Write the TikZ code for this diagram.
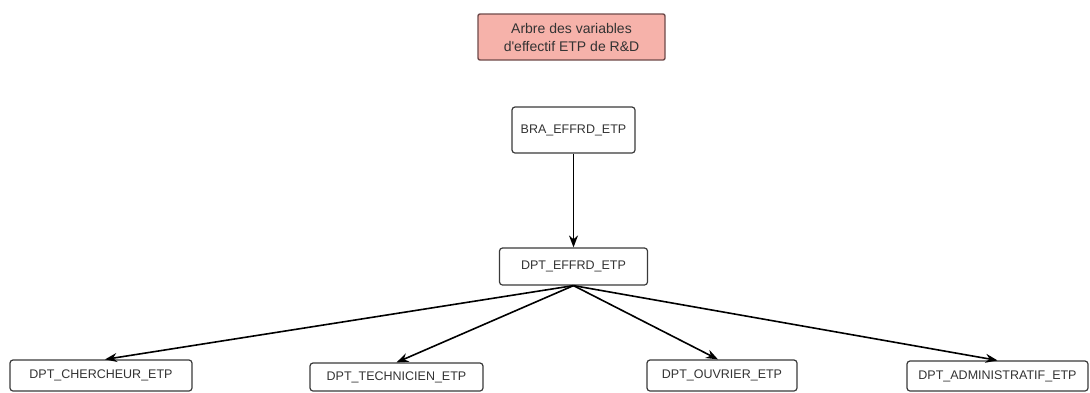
\documentclass[tikz,border=0pt]{standalone}
\usepackage{fontspec}
\setmainfont{Liberation Sans}
\usetikzlibrary{arrows.meta}
\definecolor{titlefill}{HTML}{F6B2AA}
\definecolor{titleline}{HTML}{6E4A4A}
\definecolor{boxline}{HTML}{3A3A3A}
\definecolor{textgray}{HTML}{333333}
\tikzset{
  varbox/.style={draw=boxline, line width=1.2pt, rounded corners=3pt, fill=white,
    inner sep=0pt, align=center, text=textgray,
    font=\fontsize{12.5}{14}\selectfont},
  titlebox/.style={draw=titleline, line width=1.4pt, rounded corners=2pt, fill=titlefill,
    inner sep=0pt, align=center, text=black!80,
    font=\fontsize{14}{18}\selectfont},
  link/.style={draw=black, line width=1.6pt, -{Stealth[length=12pt,width=9pt]}}
}
\begin{document}
\begin{tikzpicture}[x=1pt,y=-1pt]
  \useasboundingbox (0,0) rectangle (1090,392);
  % title
  \node[titlebox, minimum width=187pt, minimum height=46pt] (title) at (571.5,37)
    {Arbre des variables\\d\textquotesingle effectif ETP de R\&D};
  % tree of variables
  \node[varbox, minimum width=123pt, minimum height=46pt] (bra) at (573.5,130) {BRA\_EFFRD\_ETP};
  \node[varbox, minimum width=148pt, minimum height=37pt] (dpt) at (573.5,266.5) {DPT\_EFFRD\_ETP};
  \node[varbox, minimum width=182pt, minimum height=31pt] (cher) at (101,375.5) {DPT\_CHERCHEUR\_ETP};
  \node[varbox, minimum width=173pt, minimum height=28pt] (tech) at (396.5,377) {DPT\_TECHNICIEN\_ETP};
  \node[varbox, minimum width=150pt, minimum height=31pt] (ouvr) at (722,375.5) {DPT\_OUVRIER\_ETP};
  \node[varbox, minimum width=181pt, minimum height=30pt] (admin) at (997.5,376) {DPT\_ADMINISTRATIF\_ETP};
  % connectors
  \draw[link] (bra.south) -- (dpt.north);
  \draw[link] (dpt.south) -- ([xshift=4pt]cher.north);
  \draw[link] (dpt.south) -- (tech.north);
  \draw[link] (dpt.south) -- ([xshift=-4pt]ouvr.north);
  \draw[link] (dpt.south) -- (admin.north);
\end{tikzpicture}
\end{document}
